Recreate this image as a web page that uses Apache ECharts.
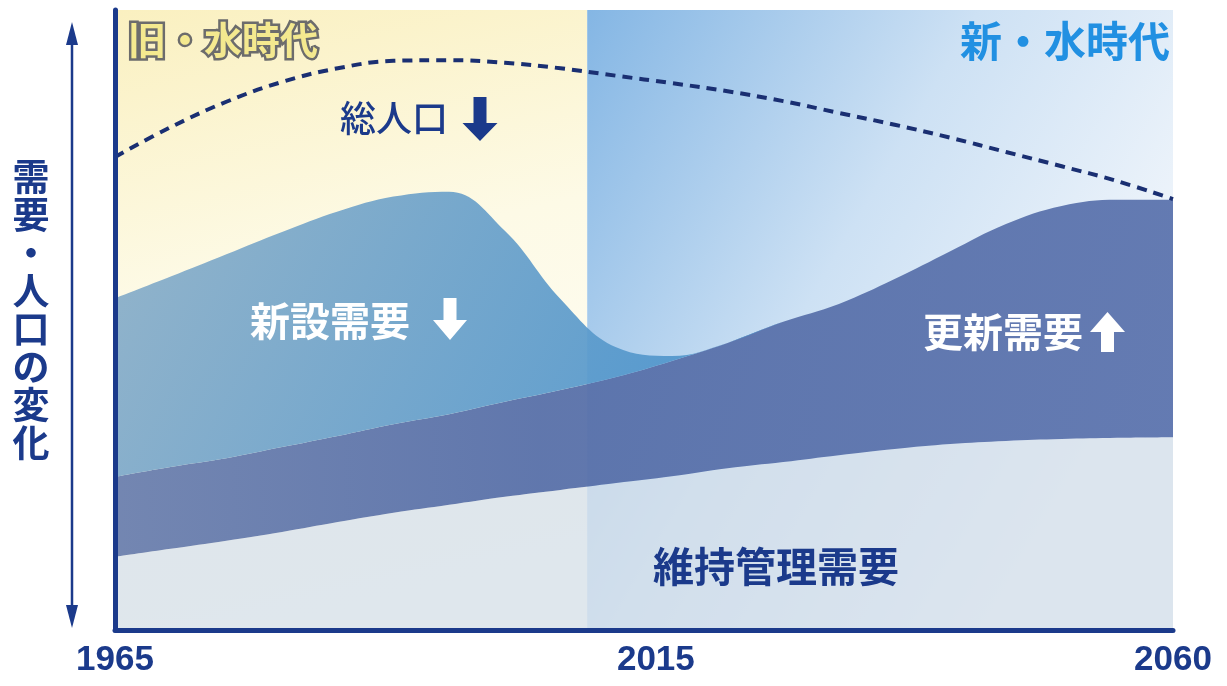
<!DOCTYPE html>
<html>
<head>
<meta charset="utf-8">
<script src="https://cdn.jsdelivr.net/npm/echarts@6/dist/echarts.min.js"></script>
<style>
  html, body { margin: 0; padding: 0; background: #ffffff; }
  #main { width: 1227px; height: 686px; }
</style>
</head>
<body>
<div id="main"></div>
<script>
// Timeline (years) and demand / population indices
const years = ['1965', '1970', '1975', '1980', '1985', '1990', '1995', '2000', '2005', '2010',
               '2015', '2020', '2025', '2030', '2035', '2040', '2045', '2050', '2055', '2060'];

// 維持管理需要 (maintenance demand, bottom layer)
const maintenance = [11.8, 13.1, 14.4, 15.8, 17.4, 18.9, 20.2, 21.5, 22.6, 23.7,
                     24.8, 26.1, 27.1, 28.2, 29.2, 30.0, 30.5, 30.8, 31.0, 31.1];

// 更新需要 (renewal demand, stacked on maintenance)
const renewal = [12.9, 13.2, 13.3, 13.7, 13.9, 14.3, 14.6, 15.3, 16.1, 17.1,
                 18.6, 20.2, 22.6, 24.4, 27.4, 31.1, 35.0, 37.6, 38.4, 38.3];

// 新設需要 (new construction demand, stacked on renewal)
const newConstruction = [28.8, 30.7, 32.9, 34.7, 36.2, 36.7, 35.9, 27.6, 14.7, 4.8,
                         0.8, 0, 0, 0, 0, 0, 0, 0, 0, 0];

// 総人口 (total population)
const population = [76.3, 81.1, 85.2, 88.4, 90.6, 91.8, 91.9, 91.5, 90.6, 89.4,
                    88.2, 86.9, 85.3, 83.4, 81.5, 79.4, 77.1, 74.8, 72.4, 69.5];

const tickYears = ['1965', '2015', '2060'];
const eraBoundary = 2007.4;
const eraNames = ['旧・水時代', '新・水時代'];
const seriesNames = ['維持管理需要', '更新需要', '新設需要', '総人口'];
const yAxisTitle = '需要・人口の変化';

const NAVY = '#1b3a8b';
const CJK = '"Noto Sans CJK JP", "Noto Sans", sans-serif';
const LATIN = '"Liberation Sans", Arial, sans-serif';

const LG = echarts.graphic.LinearGradient;

const chart = echarts.init(document.getElementById('main'), null, { renderer: 'canvas' });

const labelStyle = { fontFamily: LATIN, fontWeight: 'bold', fontSize: 35, color: NAVY };

const option = {
  animation: false,
  backgroundColor: '#ffffff',
  grid: { left: 115, right: 54, top: 10, bottom: 56, containLabel: false },
  xAxis: [
    {
      type: 'category',
      data: years,
      boundaryGap: false,
      z: 10,
      axisLine: { show: true, lineStyle: { color: NAVY, width: 5 } },
      axisTick: { show: false },
      splitLine: { show: false },
      axisLabel: {
        interval: (idx, val) => tickYears.includes(val),
        margin: 13,
        ...labelStyle,
        formatter: v => (v === '2015' ? '{mid|' + v + '}' : '{end|' + v + '}'),
        rich: {
          mid: { ...labelStyle, padding: [0, 32, 0, 0] },
          end: { ...labelStyle }
        }
      }
    },
    {
      // continuous year scale for the era backgrounds
      type: 'value',
      min: 1965,
      max: 2060,
      show: false
    }
  ],
  yAxis: {
    type: 'value',
    min: 0,
    max: 100,
    z: 10,
    axisLine: { show: true, lineStyle: { color: NAVY, width: 5 } },
    axisTick: { show: false },
    axisLabel: { show: false },
    splitLine: { show: false }
  },
  series: [
    {
      // era backgrounds
      type: 'line',
      xAxisIndex: 1,
      data: [],
      z: 0,
      silent: true,
      markArea: {
        silent: true,
        label: { show: false },
        data: [
          [
            { xAxis: 1965, itemStyle: { color: new LG(0, 0, 0.3, 1, [
              { offset: 0, color: '#faf0c0' },
              { offset: 0.45, color: '#fdfae6' },
              { offset: 1, color: '#fefdf7' }
            ]) } },
            { xAxis: eraBoundary }
          ],
          [
            { xAxis: eraBoundary, itemStyle: { color: new LG(0, 0, 1, 0.55, [
              { offset: 0, color: '#84b6e4' },
              { offset: 0.5, color: '#cde1f4' },
              { offset: 1, color: '#f5f8fc' }
            ]) } },
            { xAxis: 2060 }
          ]
        ]
      }
    },
    {
      name: seriesNames[0],
      type: 'line',
      stack: 'demand',
      z: 2,
      smooth: 0.4,
      showSymbol: false,
      lineStyle: { width: 0 },
      areaStyle: { color: 'rgba(210,222,233,0.72)', opacity: 1 },
      data: maintenance
    },
    {
      name: seriesNames[1],
      type: 'line',
      stack: 'demand',
      z: 2,
      smooth: 0.4,
      showSymbol: false,
      lineStyle: { width: 0 },
      areaStyle: {
        opacity: 0.95,
        color: new LG(0, 0, 1, 0, [
          { offset: 0, color: '#6c80ae' },
          { offset: 0.4, color: '#5870a9' },
          { offset: 1, color: '#5c74ae' }
        ])
      },
      data: renewal
    },
    {
      name: seriesNames[2],
      type: 'line',
      stack: 'demand',
      z: 2,
      smooth: 0.4,
      showSymbol: false,
      lineStyle: { width: 0 },
      areaStyle: {
        opacity: 0.92,
        color: new LG(0, 0, 0.55, 1, [
          { offset: 0, color: '#8aaec8' },
          { offset: 1, color: '#4a93cc' }
        ])
      },
      data: newConstruction
    },
    {
      name: seriesNames[3],
      type: 'line',
      z: 4,
      smooth: 0.4,
      showSymbol: false,
      lineStyle: { color: '#1a2f72', width: 4, type: [10, 7] },
      data: population
    }
  ],
  graphic: {
    z: 100,
    elements: [
      // vertical double arrow beside the axis
      { type: 'line', z: 100, shape: { x1: 72, y1: 40, x2: 72, y2: 610 },
        style: { stroke: NAVY, lineWidth: 2.5 } },
      { type: 'polygon', z: 100, shape: { points: [[72, 22], [78, 45], [66, 45]] }, style: { fill: NAVY } },
      { type: 'polygon', z: 100, shape: { points: [[72, 628], [78, 605], [66, 605]] }, style: { fill: NAVY } },
      // y-axis title, stacked vertically
      { type: 'text', z: 100, x: 31, y: 310,
        style: { text: yAxisTitle.split('').join('\n'), font: 'bold 37px ' + CJK, lineHeight: 38,
                 fill: NAVY, align: 'center', verticalAlign: 'middle',
                 textAlign: 'center', textVerticalAlign: 'middle' } },
      // era headings
      { type: 'text', z: 100, x: 128, y: 40,
        style: { text: eraNames[0], font: 'bold 38px ' + CJK, fill: '#f4e98f', stroke: '#6c6c6c',
                 lineWidth: 5, strokeFirst: true, align: 'left', verticalAlign: 'middle',
                 textAlign: 'left', textVerticalAlign: 'middle' } },
      { type: 'text', z: 100, x: 1170, y: 41,
        style: { text: eraNames[1], font: 'bold 42px ' + CJK, fill: '#2190e2',
                 align: 'right', verticalAlign: 'middle', textAlign: 'right', textVerticalAlign: 'middle' } },
      // 総人口 label with down arrow
      { type: 'text', z: 100, x: 340, y: 118,
        style: { text: seriesNames[3], font: '500 36px ' + CJK, fill: NAVY,
                 align: 'left', verticalAlign: 'middle', textAlign: 'left', textVerticalAlign: 'middle' } },
      { type: 'polygon', z: 100,
        shape: { points: [[473.5, 97], [486.5, 97], [486.5, 123], [497.5, 123], [480, 141], [462.5, 123], [473.5, 123]] },
        style: { fill: NAVY } },
      // 新設需要 label with down arrow
      { type: 'text', z: 100, x: 250, y: 321,
        style: { text: seriesNames[2], font: 'bold 40px ' + CJK, fill: '#ffffff',
                 align: 'left', verticalAlign: 'middle', textAlign: 'left', textVerticalAlign: 'middle' } },
      { type: 'polygon', z: 100,
        shape: { points: [[443.5, 298], [456.5, 298], [456.5, 320], [467, 320], [450, 340], [433, 320], [443.5, 320]] },
        style: { fill: '#ffffff' } },
      // 更新需要 label with up arrow
      { type: 'text', z: 100, x: 923, y: 332,
        style: { text: seriesNames[1], font: 'bold 40px ' + CJK, fill: '#ffffff',
                 align: 'left', verticalAlign: 'middle', textAlign: 'left', textVerticalAlign: 'middle' } },
      { type: 'polygon', z: 100,
        shape: { points: [[1107.5, 312], [1125, 332], [1114, 332], [1114, 352], [1101, 352], [1101, 332], [1090, 332]] },
        style: { fill: '#ffffff' } },
      // 維持管理需要 label
      { type: 'text', z: 100, x: 653, y: 566,
        style: { text: seriesNames[0], font: 'bold 41px ' + CJK, fill: NAVY,
                 align: 'left', verticalAlign: 'middle', textAlign: 'left', textVerticalAlign: 'middle' } }
    ]
  }
};

chart.setOption(option);
</script>
</body>
</html>
